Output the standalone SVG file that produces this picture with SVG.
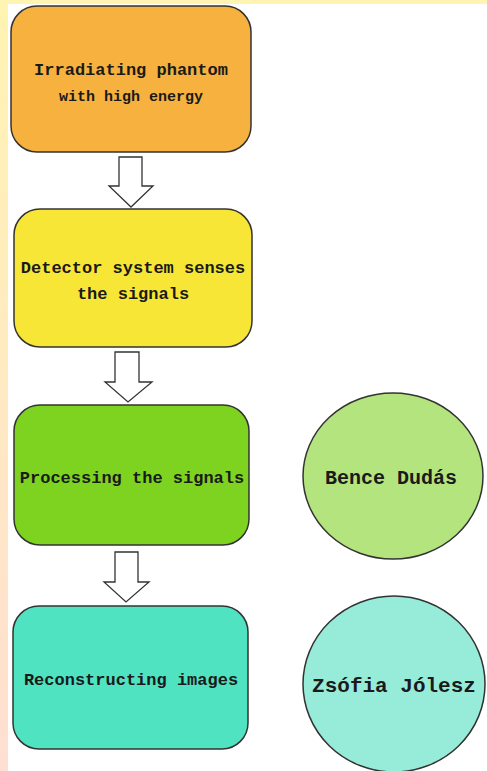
<svg xmlns="http://www.w3.org/2000/svg" width="487" height="771" viewBox="0 0 487 771">
  <defs>
    <linearGradient id="edgeGrad" x1="0" y1="0" x2="0" y2="1">
      <stop offset="0" stop-color="#fff4b2"/>
      <stop offset="1" stop-color="#ffdfd2"/>
    </linearGradient>
    <style>
      .box { stroke: #333; stroke-width: 1.5; }
      .arrow { fill: #ffffff; stroke: #333; stroke-width: 1.3; stroke-linejoin: miter; }
      .lbl { font-family: "Liberation Mono", "Courier New", monospace; font-weight: bold; fill: #1a1a1a; text-anchor: middle; }
    </style>
  </defs>

  <!-- page background with tinted top and left margins -->
  <rect x="0" y="0" width="487" height="771" fill="#ffffff"/>
  <rect x="0" y="0" width="487" height="4" fill="#fff4b2"/>
  <rect x="0" y="0" width="8" height="771" fill="url(#edgeGrad)"/>

  <!-- process steps -->
  <g id="step-irradiate">
    <rect class="box" x="11" y="6" width="240" height="146" rx="26" fill="#f6b13e"/>
    <text class="lbl" x="131" y="75" font-size="17">Irradiating phantom</text>
    <text class="lbl" x="131" y="101" font-size="15">with high energy</text>
  </g>

  <g id="step-detect">
    <rect class="box" x="14" y="209" width="238" height="138" rx="26" fill="#f8e636"/>
    <text class="lbl" x="133" y="273" font-size="17">Detector system senses</text>
    <text class="lbl" x="133" y="299" font-size="17">the signals</text>
  </g>

  <g id="step-process">
    <rect class="box" x="14" y="405" width="235" height="140" rx="26" fill="#7ed321"/>
    <text class="lbl" x="132" y="483" font-size="17">Processing the signals</text>
  </g>

  <g id="step-reconstruct">
    <rect class="box" x="13" y="606" width="235" height="143" rx="26" fill="#50e3c2"/>
    <text class="lbl" x="131" y="685" font-size="17">Reconstructing images</text>
  </g>

  <!-- author bubbles -->
  <g id="author-bence">
    <ellipse class="box" cx="393" cy="476" rx="90" ry="83" fill="#b4e47e"/>
    <text class="lbl" x="391" y="484" font-size="20">Bence Dudás</text>
  </g>

  <g id="author-zsofia">
    <ellipse class="box" cx="394" cy="684" rx="91" ry="88" fill="#97ecd9"/>
    <text class="lbl" x="394" y="692" font-size="21">Zsófia Jólesz</text>
  </g>

  <!-- block arrows between steps -->
  <g id="connectors">
    <polygon class="arrow" points="119,157 142,157 142,186 153,186 131,207 109,186 119,186"/>
    <polygon class="arrow" points="115,352 139,352 139,382 152,382 128,402 105,382 115,382"/>
    <polygon class="arrow" points="115,552 138,552 138,582 149,582 126,602 104,582 115,582"/>
  </g>
</svg>
